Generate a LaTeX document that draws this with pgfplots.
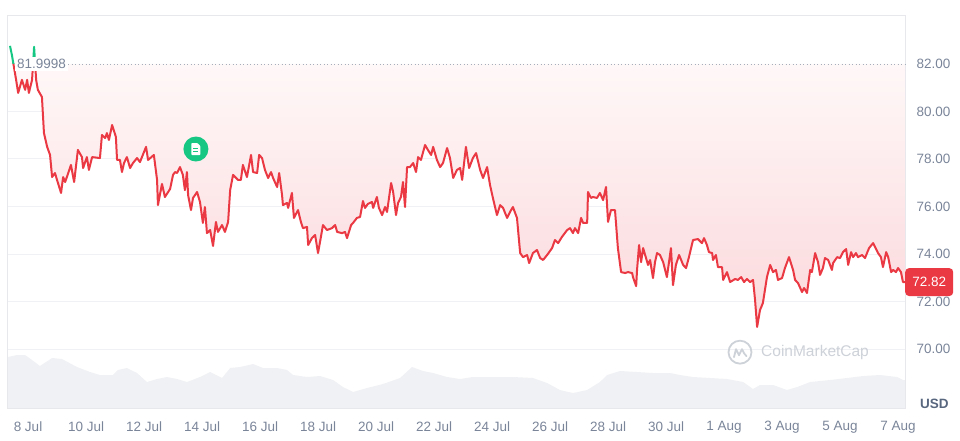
\documentclass[border=0pt]{standalone}
\usepackage{pgfplots}
\usepackage{pgfplotstable}
\pgfplotsset{compat=1.18}
\usepackage{fontspec}
\setmainfont{Liberation Sans}
\definecolor{cmcred}{HTML}{EA3943}
\definecolor{cmcgreen}{HTML}{16C784}
\definecolor{gridc}{HTML}{EFF1F4}
\definecolor{framec}{HTML}{E6E8EC}
\definecolor{labc}{HTML}{7A8599}
\definecolor{usdc}{HTML}{58667E}
\definecolor{volc}{HTML}{F0F1F4}
\definecolor{dotc}{HTML}{A6AEBB}
\definecolor{wmc}{HTML}{CDD1D8}
\definecolor{pinktop}{RGB}{255,250,250}
\definecolor{pinkbot}{RGB}{251,216,219}
\newcommand\lab{\fontsize{13.5}{15}\selectfont}

\pgfplotstableread{
x y
-0.62 82.76
-0.55 82.34
-0.41 81.33
-0.34 80.78
-0.21 81.33
-0.10 80.91
-0.03 81.33
0.03 80.78
0.14 81.33
0.21 82.72
0.28 81.33
0.34 80.91
0.48 80.61
0.55 79.09
0.66 78.51
0.76 78.17
0.83 77.24
0.93 77.41
1.00 77.12
1.14 76.57
1.21 77.24
1.28 77.03
1.34 77.24
1.48 77.75
1.59 77.03
1.72 78.38
1.86 78.08
1.90 77.62
2.03 78.08
2.10 77.54
2.21 78.08
2.48 78.04
2.55 79.01
2.66 78.88
2.72 79.09
2.79 78.80
2.90 79.43
3.03 78.93
3.07 77.96
3.17 77.96
3.24 77.45
3.31 77.83
3.41 78.08
3.52 77.62
3.62 77.83
3.76 78.04
3.86 77.87
4.07 78.51
4.14 77.96
4.34 78.17
4.45 77.12
4.48 76.06
4.62 76.95
4.72 76.40
4.90 76.74
5.00 77.33
5.07 77.45
5.14 77.41
5.24 77.66
5.34 77.33
5.41 76.69
5.48 77.45
5.52 76.48
5.62 75.85
5.69 76.36
5.83 76.61
5.93 76.19
6.03 75.31
6.10 75.98
6.17 74.88
6.28 75.01
6.38 74.34
6.48 75.35
6.55 74.93
6.69 75.22
6.79 74.93
6.90 75.35
6.97 76.69
7.07 77.33
7.24 77.12
7.34 77.12
7.41 77.75
7.55 77.24
7.69 78.17
7.76 77.45
7.90 77.41
7.97 78.17
8.07 78.04
8.17 77.54
8.28 77.20
8.38 77.45
8.45 77.20
8.59 76.82
8.66 77.41
8.76 76.48
8.79 76.06
8.93 76.15
8.97 75.94
9.10 76.57
9.17 75.52
9.31 75.85
9.41 75.35
9.48 75.09
9.62 75.14
9.66 74.38
9.79 74.67
9.90 74.80
10.00 74.04
10.10 74.72
10.17 75.22
10.31 75.01
10.48 75.09
10.59 75.22
10.66 74.93
10.83 74.88
10.93 74.93
11.00 74.67
11.14 75.22
11.21 75.31
11.34 75.52
11.45 75.56
11.55 76.23
11.62 75.94
11.72 76.11
11.86 76.19
11.90 75.94
12.03 76.40
12.10 75.94
12.21 75.64
12.31 75.98
12.38 75.77
12.52 76.99
12.59 76.61
12.69 75.64
12.76 76.15
12.86 76.40
12.93 77.03
13.00 75.98
13.07 77.66
13.17 77.66
13.28 77.83
13.38 77.45
13.45 78.08
13.55 77.96
13.69 78.59
13.79 78.38
13.90 78.17
13.97 78.51
14.10 77.96
14.21 77.66
14.31 77.83
14.45 78.46
14.55 78.04
14.66 77.20
14.79 77.54
14.90 77.62
14.97 77.12
15.10 78.51
15.21 77.62
15.34 78.04
15.45 78.25
15.59 77.54
15.69 77.20
15.83 77.66
15.93 76.91
16.03 76.36
16.17 75.64
16.28 76.06
16.38 75.94
16.52 75.52
16.62 75.77
16.72 75.98
16.86 75.52
16.97 74.04
17.07 73.87
17.21 73.96
17.28 73.62
17.41 74.04
17.55 74.17
17.66 73.83
17.76 73.75
17.90 73.96
18.07 74.25
18.17 74.59
18.28 74.46
18.41 74.72
18.59 75.01
18.69 75.09
18.79 74.88
18.86 75.09
18.97 74.88
19.07 75.52
19.14 75.31
19.28 75.31
19.31 76.61
19.41 76.36
19.48 76.40
19.62 76.36
19.72 76.57
19.83 76.27
19.93 76.82
20.00 75.35
20.10 75.85
20.24 75.85
20.34 74.25
20.45 73.24
20.59 73.20
20.69 73.24
20.83 73.20
20.86 73.03
20.97 72.65
21.00 73.33
21.07 74.38
21.14 73.66
21.21 74.25
21.31 73.83
21.38 73.54
21.45 73.75
21.55 72.99
21.62 73.66
21.69 74.04
21.79 73.96
21.90 73.66
22.03 73.03
22.17 74.25
22.24 72.69
22.34 73.54
22.45 73.96
22.59 73.54
22.69 73.41
22.79 73.87
22.93 74.59
23.10 74.63
23.24 74.46
23.31 74.67
23.41 74.38
23.48 74.08
23.59 74.04
23.62 73.75
23.72 73.96
23.79 73.45
23.93 73.45
23.97 72.91
24.10 73.24
24.21 72.82
24.38 72.95
24.48 72.91
24.59 73.03
24.69 72.82
24.79 72.95
24.90 72.82
25.00 72.91
25.07 72.06
25.14 70.93
25.24 71.64
25.34 71.94
25.48 73.03
25.59 73.54
25.69 73.24
25.79 73.33
25.86 72.91
26.00 72.99
26.10 73.41
26.24 73.87
26.38 73.33
26.45 72.91
26.55 72.78
26.69 72.40
26.76 72.57
26.86 72.36
26.97 73.33
27.03 73.24
27.14 74.04
27.24 73.66
27.31 73.12
27.41 73.41
27.48 73.83
27.59 73.75
27.72 73.33
27.76 73.62
27.90 73.87
28.00 73.83
28.10 74.08
28.21 74.21
28.28 73.54
28.38 74.08
28.45 73.87
28.55 74.04
28.62 73.87
28.76 73.96
28.86 73.83
29.00 74.25
29.14 74.46
29.21 74.29
29.31 74.04
29.41 73.87
29.48 73.45
29.59 74.08
29.66 73.87
29.76 73.24
29.83 73.33
29.93 73.24
30.00 73.41
30.10 73.24
30.17 72.82
30.24 72.82
}\pricedata

\pgfplotstableread{
x v
-0.69 51
-0.38 53
-0.10 53
0.14 48
0.41 42
0.83 50
1.17 49
1.69 41
2.14 36
2.48 33
2.93 33
3.10 38
3.41 40
3.76 35
4.10 26
4.45 29
4.79 31
5.14 29
5.48 26
5.93 31
6.28 36
6.69 30
6.97 40
7.31 41
7.76 44
8.10 40
8.59 40
8.93 38
9.14 33
9.62 31
10.07 32
10.52 28
10.86 21
11.21 16
11.69 20
12.24 24
12.83 30
13.24 41
13.62 37
13.97 35
14.45 31
14.90 29
15.34 31
15.59 31
16.17 31
16.72 31
17.41 30
17.90 25
18.34 18
18.79 15
19.28 18
19.72 26
19.97 33
20.41 37
21.00 36
21.55 35
22.14 35
22.48 33
22.93 31
23.52 30
24.10 29
24.66 26
25.00 19
25.24 23
25.69 23
26.17 18
26.52 21
26.97 26
27.66 28
28.24 30
28.79 32
29.38 33
29.97 31
30.17 28
30.24 28
}\voldata

\begin{document}
\begin{tikzpicture}[x=1pt,y=1pt]
\path[use as bounding box] (0,0) rectangle (960,440);
% volume
\begin{axis}[at={(8pt,32pt)}, anchor=south west, scale only axis,
  width=897pt, height=393pt, xmin=-0.69, xmax=30.24, ymin=0, ymax=393,
  hide axis]
\addplot[draw=none, fill=volc] table[x=x,y=v] {\voldata} \closedcycle;
\end{axis}
% price
\begin{axis}[at={(8pt,32pt)}, anchor=south west, scale only axis,
  width=897pt, height=393pt, xmin=-0.69, xmax=30.24, ymin=67.52, ymax=84.06,
  clip=false,
  axis line style={draw=framec, line width=1pt},
  tick style={draw=none},
  ytick={70,72,74,76,78,80},
  extra y ticks={82}, extra y tick style={grid=none},
  ymajorgrids, major grid style={draw=gridc, line width=1pt},
  yticklabel pos=right,
  /pgf/number format/assume math mode=true,
  yticklabel style={font=\lab, text=labc, anchor=west, xshift=8pt,
    /pgf/number format/fixed, /pgf/number format/fixed zerofill,
    /pgf/number format/precision=2},
  xtick={0,2,...,30},
  xticklabels={8 Jul,10 Jul,12 Jul,14 Jul,16 Jul,18 Jul,20 Jul,22 Jul,24 Jul,26 Jul,28 Jul,30 Jul,1 Aug,3 Aug,5 Aug,7 Aug},
  xticklabel style={font=\lab, text=labc, yshift=-10pt},
]
\begin{scope}
\clip (axis cs:-1,81.9998) rectangle (axis cs:31,60);
\addplot[draw=none, top color=pinktop, bottom color=pinkbot] table[x=x,y=y] {\pricedata}
  -- (axis cs:30.24,81.9998) -- (axis cs:-0.62,81.9998) -- cycle;
\addplot[cmcred, line width=2pt, line join=round] table[x=x,y=y] {\pricedata};
\end{scope}
\begin{scope}
\clip (axis cs:-1,81.9998) rectangle (axis cs:31,90);
\addplot[cmcgreen, line width=2pt, line join=round] table[x=x,y=y] {\pricedata};
\end{scope}
% baseline
\node[anchor=west, fill=white, text=labc, font=\lab, inner sep=2pt, xshift=7pt] (bl) at (axis cs:-0.69,81.9998) {81.9998};
\draw[dotc, line width=0.9pt, dash pattern=on 0.9pt off 2.6pt] (bl.east) -- (axis cs:30.24,81.9998);
% news icon
\node[circle, fill=cmcgreen, minimum size=25pt, inner sep=0pt] (ic) at (axis cs:5.79,78.42) {};
\fill[white, rounded corners=0.8pt] ([shift={(-4.5pt,-6pt)}]ic.center) -- ([shift={(-4.5pt,6pt)}]ic.center) -- ([shift={(1.5pt,6pt)}]ic.center) -- ([shift={(4.5pt,3pt)}]ic.center) -- ([shift={(4.5pt,-6pt)}]ic.center) -- cycle;
\draw[cmcgreen, line width=1pt] ([shift={(-2.5pt,0.8pt)}]ic.center) -- ([shift={(2.5pt,0.8pt)}]ic.center);
\draw[cmcgreen, line width=1pt] ([shift={(-2.5pt,-2.4pt)}]ic.center) -- ([shift={(2.5pt,-2.4pt)}]ic.center);
% watermark
\node[circle, draw=wmc, line width=1.8pt, minimum size=23pt, inner sep=0pt] (wm) at (axis cs:24.55,69.87) {};
\draw[wmc, line width=1.8pt, line join=round, line cap=round] ([shift={(-6pt,-5pt)}]wm.center) -- ([shift={(-4pt,3pt)}]wm.center) -- ([shift={(-1pt,-3pt)}]wm.center) -- ([shift={(2pt,3pt)}]wm.center) -- ([shift={(4pt,-1pt)}]wm.center) -- ([shift={(6.5pt,-4pt)}]wm.center);
\node[anchor=west, text=wmc, font=\fontsize{15.5}{17}\selectfont, inner sep=0pt, xshift=21pt, yshift=-0.5pt] at (wm.center) {CoinMarketCap};
% last price tag
\node[anchor=west, fill=cmcred, text=white, font=\lab, rounded corners=4pt,
  minimum width=48pt, minimum height=28pt, inner sep=0pt] at (axis cs:30.24,72.82) {72.82};
% USD
\node[anchor=west, text=usdc, font=\lab\bfseries, inner sep=0pt, xshift=15pt] at (axis cs:30.24,67.68) {USD};
\end{axis}
\end{tikzpicture}
\end{document}
